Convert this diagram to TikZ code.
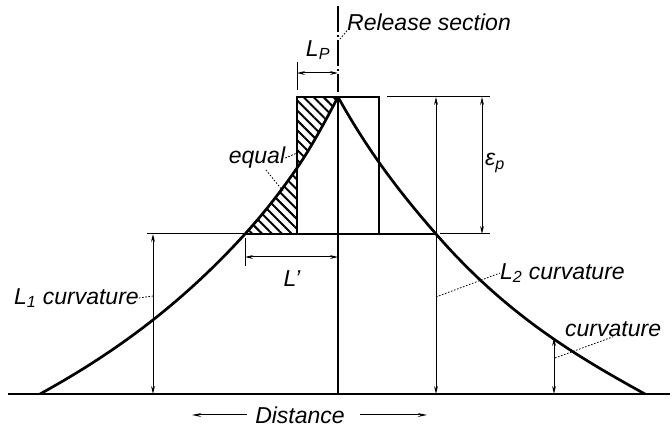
\documentclass[tikz,border=0pt]{standalone}
\usepackage{fontspec}
\setmainfont{Liberation Sans}
\usetikzlibrary{arrows.meta,patterns.meta}

\begin{document}
\begin{tikzpicture}[
  x=1pt,y=-1pt,
  curve/.style={line width=2.7pt},
  frame/.style={line width=1.8pt},
  thinline/.style={line width=1pt},
  dim/.style={line width=1pt,{Stealth[length=8pt,width=3.8pt]}-{Stealth[length=8pt,width=3.8pt]}},
  arr/.style={line width=1pt,-{Stealth[length=9pt,width=3.8pt]}},
  leader/.style={line width=0.8pt,dash pattern=on 1.6pt off 1.6pt},
  lbl/.style={font=\fontsize{23}{25}\selectfont\itshape,inner sep=0pt},
  hatch/.style={pattern={Lines[angle=-45,distance=7pt,line width=2pt]}},
]
  \useasboundingbox (0,0) rectangle (672,427);

  % key points of the two curves
  \coordinate (start) at (40,394);
  \coordinate (lcut) at (245,234);
  \coordinate (ledge) at (297,168);
  \coordinate (peak) at (338,97);
  \coordinate (rcut) at (436,234);
  \coordinate (finish) at (645,394);
  \coordinate (foot) at (338,394);

  % hatched areas
  \fill[hatch] (297,97) -- (peak) .. controls (324.3,123) and (310.7,148.2) .. (ledge) -- cycle;
  \fill[hatch] (lcut) .. controls (262.3,215) and (279.7,193.1) .. (ledge) -- (297,234) -- cycle;

  % base line and curves
  \draw[curve] (8,394) -- (670,394);
  \draw[curve] (start) .. controls (108,356.6) and (177,308.8) .. (lcut)
    .. controls (262.3,215) and (279.7,193.1) .. (ledge)
    .. controls (310.7,148.2) and (324.3,123) .. (peak);
  \draw[curve] (peak) .. controls (370.7,155.8) and (403.3,196.4) .. (rcut)
    .. controls (505.7,314.1) and (575.3,355.7) .. (finish);
  \draw[curve] (peak) -- (foot);

  % plastic block
  \draw[frame] (297,234) |- (379,97) -- (379,234);
  \draw[frame] (lcut) -- (rcut);

  % extension lines
  \draw[thinline] (147,234) -- (lcut);
  \draw[thinline] (440,234) -- (490,234);
  \draw[thinline] (387,97) -- (490,97);
  \draw[thinline] (297,62) -- (297,90);
  \draw[thinline] (245,238) -- (245,266);
  \draw[line width=1.3pt,dash pattern=on 26pt off 3pt on 2pt off 3pt] (338,6) -- (338,92);

  % dimensions
  \draw[dim] (153,234) -- (153,394);
  \draw[dim] (436,97) -- (436,394);
  \draw[dim] (482,97) -- (482,234);
  \draw[dim] (554,338) -- (554,394);
  \draw[dim] (297,73) -- (338,73);
  \draw[dim] (245,257) -- (338,257);

  % labels
  \node[lbl,anchor=west] (rel) at (347,22) {Release section};
  \node[lbl] (lp) at (318,50) {L\textsubscript{P}};
  \node[lbl] (ep) at (495,163) {ε\textsubscript{p}};
  \node[lbl] (eq) at (257,158) {equal};
  \node[lbl] (lpr) at (292,279) {L'};
  \node[lbl,anchor=west] (lone) at (14,298) {L\textsubscript{1} curvature};
  \node[lbl,anchor=west] (ltwo) at (500,273) {L\textsubscript{2} curvature};
  \node[lbl,anchor=west] (cv) at (565,329) {curvature};
  \node[lbl] (dist) at (300,415) {Distance};

  % leaders
  \draw[leader] (rel.south west) -- (340,39);
  \draw[leader] (eq.east) -- (297,153);
  \draw[leader] (266,170) -- (283,191);
  \draw[leader] (lone.east) -- (153,296);
  \draw[leader] (436,297) -- (ltwo.west);
  \draw[leader] (555,358) -- (cv.south);

  % distance arrows
  \coordinate (dl) at (192,415);
  \coordinate (dr) at (427,415);
  \draw[arr] ([xshift=-8pt]dist.west) -- (dl);
  \draw[arr] ([xshift=15pt]dist.east) -- (dr);
\end{tikzpicture}
\end{document}
